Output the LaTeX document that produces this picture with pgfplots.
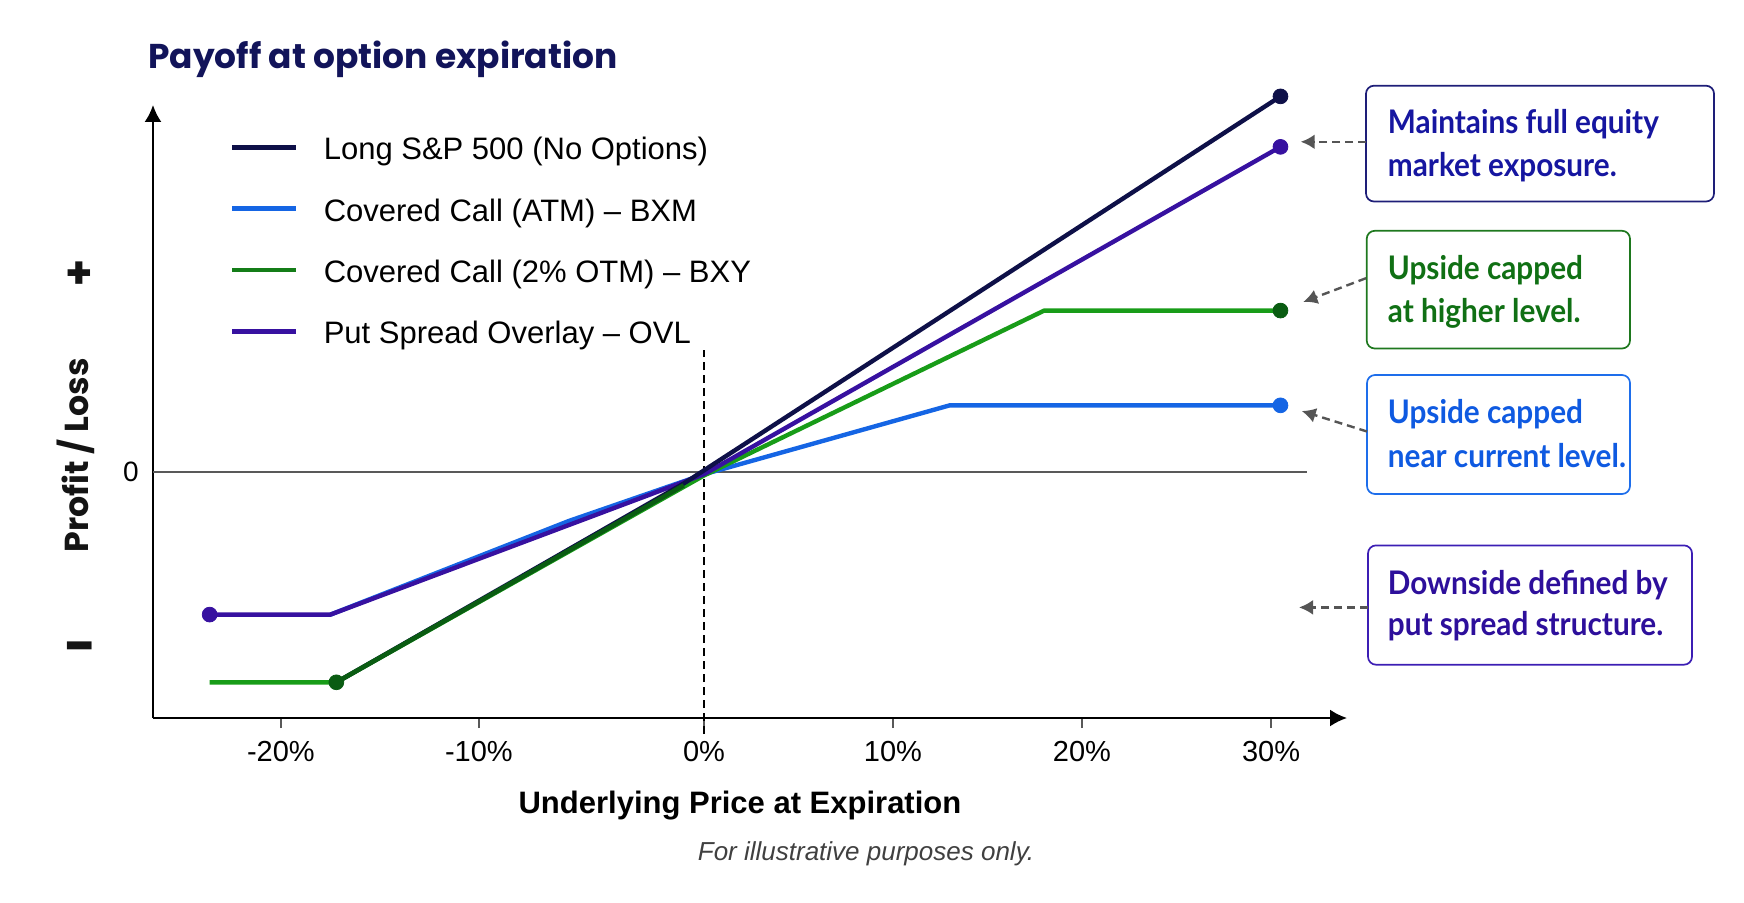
\documentclass[border=0pt]{standalone}
\usepackage{pgfplots}
\pgfplotsset{compat=1.18}
\usepackage{fontspec}
\setmainfont{Liberation Sans}
\newfontfamily\poppins{Poppins}
\newfontfamily\lato{Lato}[FakeStretch=0.915]
\usetikzlibrary{arrows.meta}

% series colours
\definecolor{longc}{RGB}{14,16,72}
\definecolor{bxmc}{RGB}{21,101,228}
\definecolor{bxyc}{RGB}{24,156,24}
\definecolor{bxydark}{RGB}{10,92,18}
\definecolor{bxyleg}{RGB}{20,125,24}
\definecolor{ovlc}{RGB}{55,17,160}
\definecolor{titlec}{RGB}{18,20,90}
% call-out colours
\definecolor{boxA}{RGB}{30,30,120}\definecolor{txtA}{RGB}{22,22,160}
\definecolor{boxB}{RGB}{30,120,30}\definecolor{txtB}{RGB}{16,112,20}
\definecolor{boxC}{RGB}{30,110,235}\definecolor{txtC}{RGB}{15,90,225}
\definecolor{boxD}{RGB}{60,30,180}\definecolor{txtD}{RGB}{45,15,155}
\definecolor{arrowc}{RGB}{85,85,85}

\begin{document}
\begin{tikzpicture}
\useasboundingbox (0,0) rectangle (872pt,451pt);

\begin{axis}[
  at={(76.5pt,92pt)}, anchor=south west,
  scale only axis, width=597pt, height=306.5pt,
  clip=false,
  % underlying move (in %) to horizontal position, piecewise between the ticks
  x coord trafo/.code={\pgfmathparse{ifthenelse((#1)<-10,-11.905+1.0476*((#1)+10),ifthenelse((#1)<0,1.1905*(#1),(#1)))}},
  x coord inv trafo/.code={\pgfmathparse{ifthenelse((#1)<-11.905,-10+((#1)+11.905)/1.0476,ifthenelse((#1)<0,(#1)/1.1905,(#1)))}},
  xmin=-26.46, xmax=34.02, ymin=-20, ymax=29.8,
  axis lines=left,
  axis line style={line width=1pt, -{Latex[length=8.5pt,width=8.5pt]}},
  tick align=outside, major tick length=5pt,
  xtick={-20,-10,0,10,20,30},
  xticklabels={-20\%,-10\%,0\%,10\%,20\%,30\%},
  major x tick style={line width=0.6pt, black!65},
  xticklabel style={font=\fontsize{14.5}{17}\selectfont, inner sep=0pt, anchor=north, text height=10.4pt, text depth=0pt, yshift=-6pt},
  ytick={0}, yticklabels={0},
  major y tick style={draw=none},
  yticklabel style={font=\fontsize{14}{16}\selectfont, inner sep=0pt, anchor=east, xshift=-2pt},
  xlabel={Underlying Price at Expiration},
  xlabel style={font=\bfseries\fontsize{15.5}{18}\selectfont, at={(axis description cs:0.4916,-0.1555)}, anchor=base, inner sep=0pt},
  ylabel={Profit / Loss},
  ylabel style={font=\poppins\bfseries\fontsize{16.6}{19}\selectfont, at={(axis description cs:-0.0536,0.4285)}, anchor=base, inner sep=0pt, text=black!92},
  legend style={at={(axis description cs:0.06415,0.9633)}, anchor=north west,
    draw=none, fill=none, inner sep=0pt, row sep=11.05pt,
    font=\fontsize{15.5}{18}\selectfont,
    nodes={inner sep=0pt, text height=16pt, text depth=3.6pt},
    /tikz/every odd column/.append style={column sep=12.6pt}},
  legend cell align=left,
  legend image code/.code={\draw[#1, line width=2.3pt] (0pt,0pt) -- (32pt,0pt);},
  every axis plot/.append style={line join=round},
]

% legend entries
\addlegendimage{longc}\addlegendentry{Long S\&P 500 (No Options)}
\addlegendimage{bxmc}\addlegendentry{Covered Call (ATM) – BXM}
\addlegendimage{bxyleg}\addlegendentry{Covered Call (2\% OTM) – BXY}
\addlegendimage{ovlc}\addlegendentry{Put Spread Overlay – OVL}

% profit / loss sign markers beside the vertical axis
\node[anchor=center, inner sep=0pt, text=black!92, font=\poppins\bfseries\fontsize{22}{22}\selectfont]
  at ([xshift=-37pt, yshift=-1.6pt]rel axis cs:0,0.7277) {+};
\node[anchor=center, inner sep=0pt, text=black!92, font=\poppins\bfseries\fontsize{28}{28}\selectfont]
  at ([xshift=-36pt, yshift=-4.4pt]rel axis cs:0,0.1187) {-};

% break-even reference lines
\draw[black!65, line width=0.9pt] (axis cs:-26.46,0) -- (axis cs:31.9,0);
\draw[black, line width=0.7pt, dash pattern=on 4pt off 2.5pt] (axis cs:0,-21.3) -- (axis cs:0,9.9);

% payoff lines
\addplot[bxmc, line width=2.2pt, forget plot] coordinates {(-17.5,-11.6) (-6,-3.99) (0,-0.2) (13,5.4) (30.5,5.4)};
\addplot[bxyc, line width=2.2pt, forget plot] coordinates {(-23.6,-17.1) (-17.2,-17.1) (0,-0.3) (18,13.1) (30.5,13.1)};
\addplot[ovlc, line width=2.2pt, forget plot] coordinates {(-23.6,-11.6) (-17.5,-11.6) (0,-0.2) (30.5,26.4)};
\addplot[longc, line width=2.2pt, forget plot] coordinates {(-17.2,-17.1) (-0.9,-0.95) (30.5,30.5)};
\addplot[bxydark, line width=2.3pt, forget plot] coordinates {(-17.2,-17.1) (-0.9,-1.1)};

% end points
\addplot[only marks, mark=*, mark size=3.7pt, color=longc, forget plot] coordinates {(30.5,30.5)};
\addplot[only marks, mark=*, mark size=3.7pt, color=ovlc, forget plot] coordinates {(-23.6,-11.6) (30.5,26.4)};
\addplot[only marks, mark=*, mark size=3.7pt, color=bxydark, forget plot] coordinates {(-17.2,-17.1) (30.5,13.1)};
\addplot[only marks, mark=*, mark size=3.7pt, color=bxmc, forget plot] coordinates {(30.5,5.4)};
\end{axis}

% title, note and call-outs
\begin{scope}[x=0.5pt, y=-0.5pt, shift={(0pt,451pt)}]
\node[anchor=base west, inner sep=0pt, text=titlec, font=\poppins\bfseries\fontsize{17.2}{20}\selectfont] at (148,68.3) {Payoff at option expiration};
\node[anchor=base, inner sep=0pt, text=black!75, font=\itshape\fontsize{13}{15}\selectfont] at (866,860.7) {For illustrative purposes only.};

\tikzset{callout/.style={line width=0.85pt, rounded corners=4pt},
         ctext/.style={anchor=base west, inner sep=0pt, font=\lato\bfseries\fontsize{16.25}{19}\selectfont},
         carrow/.style={arrowc, line width=1.2pt, dash pattern=on 4pt off 2.5pt, -{Latex[length=7pt,width=7.5pt]}}}

\draw[callout, boxA] (1366,85.7) rectangle (1714,201.5);
\node[ctext, text=txtA] at (1387.5,133.9) {Maintains full equity};
\node[ctext, text=txtA] at (1387.5,176.6) {market exposure.};
\draw[carrow] (1366,141.8) -- (1300.7,141.8);

\draw[callout, boxB] (1366.7,230.8) rectangle (1630,348.5);
\node[ctext, text=txtB] at (1387.5,279.4) {Upside capped};
\node[ctext, text=txtB] at (1387.5,322.8) {at higher level.};
\draw[carrow] (1366,278.2) -- (1303.3,301.9);

\draw[callout, boxC] (1367,375) rectangle (1630,494);
\node[ctext, text=txtC] at (1387.5,423.6) {Upside capped};
\node[ctext, text=txtC] at (1387.5,467) {near current level.};
\draw[carrow] (1367,431.5) -- (1301.7,411);

\draw[callout, boxD] (1368,545.4) rectangle (1692,664.7);
\node[ctext, text=txtD] at (1387.5,594.4) {Downside defined by};
\node[ctext, text=txtD] at (1387.5,635) {put spread structure.};
\draw[carrow] (1368,607.4) -- (1299,607.4);
\end{scope}
\end{tikzpicture}
\end{document}
